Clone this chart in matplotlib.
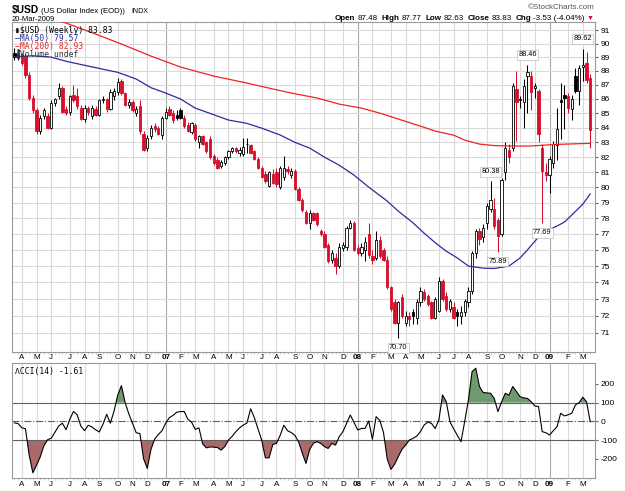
"""
usd_weekly.py - $USD weekly candles with MA(50)/MA(200) and CCI(14) panel.
Values read off a StockCharts snapshot (20-Mar-2009).
"""

import numpy as np
import pandas as pd
import matplotlib
matplotlib.use("Agg")
import matplotlib.pyplot as plt
from matplotlib.ticker import FixedLocator, NullLocator

# weekly bars, Friday closes
weeks = pd.date_range("2006-03-24", "2009-03-20", freq="W-FRI")

opens = [89.3, 89.0, 89.2, 89.1, 87.7, 86.1, 85.2, 83.8, 84.8, 84.8,
         84.0, 85.7, 86.2, 86.8, 85.3, 85.1, 86.3, 86.2, 85.4, 84.6,
         85.4, 84.8, 85.3, 84.9, 85.9, 86.0, 85.3, 86.2, 86.5, 87.3,
         86.4, 85.6, 85.8, 85.0, 85.5, 83.6, 82.6, 83.4, 84.1, 84.0,
         83.5, 84.7, 85.3, 85.0, 84.9, 85.2, 84.7, 84.2, 83.7, 84.2,
         83.0, 83.4, 83.0, 83.2, 82.1, 81.8, 81.4, 81.6, 82.0, 82.4,
         82.6, 82.3, 82.2, 82.9, 82.8, 82.4, 81.9, 81.3, 80.9, 80.1,
         80.9, 81.0, 80.0, 80.7, 81.2, 80.8, 81.1, 79.9, 79.2, 78.4,
         77.7, 78.3, 78.3, 77.2, 77.0, 76.3, 75.4, 75.5, 75.0, 76.1,
         76.2, 77.4, 77.7, 76.1, 75.8, 76.0, 77.0, 75.6, 75.5, 76.6,
         76.0, 75.4, 73.7, 72.8, 71.6, 73.1, 71.6, 72.0, 72.2, 71.9,
         72.8, 73.4, 73.2, 72.8, 71.9, 72.3, 74.1, 73.2, 72.4, 72.5,
         72.2, 72.0, 72.2, 72.8, 73.5, 75.8, 77.2, 76.8, 77.7, 78.6,
         78.6, 77.9, 77.0, 81.0, 82.5, 82.6, 86.7, 85.9, 85.8, 87.6,
         87.6, 86.8, 86.6, 82.6, 81.0, 80.8, 81.6, 82.8, 85.9, 86.3,
         86.2, 85.3, 87.6, 86.6, 88.3, 88.6, 87.48]
highs = [89.7, 89.6, 89.3, 89.3, 87.9, 86.3, 85.4, 84.9, 85.4, 85.0,
         85.9, 86.1, 87.1, 86.9, 85.5, 86.3, 87.0, 86.8, 85.6, 85.6,
         85.5, 85.6, 85.5, 86.0, 86.2, 86.1, 86.7, 86.8, 87.5, 87.4,
         86.5, 86.0, 85.9, 85.5, 85.9, 83.8, 83.5, 84.2, 84.3, 84.1,
         84.8, 85.4, 85.5, 85.2, 85.2, 85.4, 84.9, 84.4, 84.4, 84.3,
         83.5, 83.5, 83.1, 83.4, 82.2, 82.0, 81.8, 82.1, 82.5, 82.7,
         82.7, 82.7, 83.3, 83.3, 82.9, 82.5, 82.0, 81.4, 81.1, 81.1,
         81.2, 81.3, 81.4, 82.1, 81.4, 81.3, 81.2, 80.0, 79.3, 78.5,
         78.5, 78.4, 78.4, 77.3, 77.2, 76.4, 76.0, 75.8, 76.4, 76.5,
         77.5, 77.9, 77.8, 76.3, 76.4, 76.8, 77.7, 76.0, 77.2, 76.9,
         76.1, 75.6, 73.8, 73.0, 72.9, 73.3, 72.3, 72.2, 72.4, 73.0,
         73.7, 73.6, 73.3, 72.9, 73.1, 74.3, 74.2, 73.4, 73.0, 72.8,
         72.4, 72.6, 73.0, 73.7, 75.9, 77.3, 77.4, 77.6, 79.0, 80.38,
         79.3, 78.0, 80.6, 83.0, 82.9, 87.1, 88.0, 86.2, 87.4, 88.46,
         88.0, 87.1, 86.7, 82.9, 81.6, 82.1, 83.1, 85.4, 87.1, 87.0,
         86.4, 86.3, 88.2, 88.4, 89.62, 89.4, 87.77]
lows = [88.8, 88.8, 88.4, 87.5, 85.9, 85.0, 83.6, 83.6, 84.6, 83.9,
        83.9, 85.5, 86.0, 85.0, 84.9, 84.9, 85.8, 85.3, 84.5, 84.4,
        84.9, 84.6, 84.8, 84.8, 85.7, 85.1, 85.2, 85.9, 86.3, 86.3,
        85.5, 85.4, 85.1, 84.8, 83.6, 82.4, 82.4, 83.2, 83.7, 83.5,
        83.2, 84.6, 84.8, 84.3, 84.5, 84.6, 84.0, 83.7, 83.6, 83.1,
        82.6, 82.8, 82.3, 81.9, 81.5, 81.2, 81.3, 81.5, 81.9, 82.3,
        82.3, 82.1, 82.1, 82.3, 82.2, 81.8, 81.2, 80.6, 80.3, 80.0,
        80.2, 80.0, 79.9, 80.5, 80.9, 80.6, 79.8, 79.1, 78.4, 77.6,
        77.3, 77.8, 77.5, 76.9, 76.1, 75.2, 75.2, 74.5, 74.9, 75.9,
        76.0, 77.3, 75.9, 75.7, 75.6, 75.3, 75.5, 75.1, 75.4, 75.5,
        75.3, 73.6, 72.3, 71.5, 70.70, 71.9, 71.4, 71.4, 71.5, 71.5,
        72.6, 72.9, 72.6, 71.8, 71.8, 72.2, 72.9, 72.3, 72.2, 71.8,
        71.4, 71.5, 72.0, 72.5, 73.3, 75.5, 76.3, 76.5, 77.3, 78.4,
        77.3, 75.89, 76.9, 80.5, 81.6, 82.4, 83.1, 85.4, 84.0, 85.0,
        85.2, 86.1, 83.0, 77.69, 80.4, 79.6, 81.3, 81.8, 83.2, 83.9,
        85.0, 84.5, 86.4, 85.6, 87.3, 87.1, 82.63]
closes = [89.0, 89.2, 88.6, 87.7, 86.1, 85.2, 83.8, 84.7, 85.2, 84.0,
          85.7, 86.0, 86.8, 85.1, 85.0, 86.2, 85.9, 85.5, 84.6, 85.4,
          85.1, 85.4, 84.9, 85.9, 86.0, 85.3, 86.5, 86.6, 87.2, 86.4,
          85.6, 85.8, 85.2, 85.3, 83.8, 82.5, 83.3, 84.0, 83.9, 83.6,
          84.7, 85.1, 84.9, 84.5, 84.7, 84.7, 84.1, 83.8, 84.3, 83.2,
          83.4, 82.9, 82.4, 82.0, 81.6, 81.3, 81.7, 82.0, 82.4, 82.6,
          82.4, 82.5, 82.7, 82.9, 82.3, 81.9, 81.3, 80.7, 80.4, 81.0,
          80.3, 80.2, 81.3, 81.3, 81.1, 81.1, 79.9, 79.2, 78.5, 77.7,
          78.3, 77.9, 77.6, 77.0, 76.2, 75.3, 75.8, 75.0, 76.2, 76.3,
          77.4, 77.7, 76.0, 75.8, 76.2, 76.5, 75.7, 75.4, 76.6, 75.6,
          75.4, 73.7, 72.4, 71.6, 72.8, 72.0, 72.0, 71.8, 72.0, 72.8,
          73.5, 73.0, 72.7, 71.9, 73.0, 74.1, 73.0, 72.4, 72.9, 71.9,
          72.0, 72.2, 72.9, 73.5, 75.8, 77.2, 76.7, 77.4, 78.8, 79.2,
          77.5, 76.9, 80.5, 82.6, 82.0, 86.9, 85.8, 86.0, 86.9, 87.9,
          86.5, 86.9, 83.6, 81.1, 80.8, 81.9, 82.9, 83.9, 85.8, 86.1,
          85.4, 86.0, 86.6, 88.2, 88.4, 87.36, 83.83]

# moving averages, read at selected weeks (week index, value)
ma50_idx = [0, 5, 10, 14, 20, 28, 33, 37, 41, 45, 49, 54, 58, 63, 67,
            72, 76, 80, 84, 88, 92, 96, 101, 104, 108, 111, 114, 117,
            120, 123, 127, 130, 134, 137, 139, 141, 143, 147, 149, 151,
            154, 156]
ma50 = [89.03, 89.1, 89.0, 88.7, 88.35, 87.9, 87.42, 86.8, 86.42, 86.0,
        85.36, 84.9, 84.53, 84.3, 83.97, 83.5, 83.0, 82.61, 82.0, 81.46,
        80.8, 80.01, 79.1, 78.45, 77.7, 77.05, 76.45, 75.92, 75.5, 75.0,
        74.87, 74.85, 75.0, 75.5, 76.0, 76.54, 77.05, 77.5, 77.75, 78.2,
        78.9, 79.57]
ma200_idx = [0, 7, 14, 22, 29, 37, 45, 54, 63, 69, 75, 82, 88, 94, 99,
             104, 110, 114, 119, 122, 126, 130, 134, 140, 146, 152, 156]
ma200 = [92.66, 92.13, 91.52, 90.7, 89.96, 89.08, 88.28, 87.63, 87.13,
         86.77, 86.42, 86.07, 85.64, 85.36, 85.01, 84.6, 84.11, 83.77,
         83.49, 83.15, 82.88, 82.78, 82.75, 82.75, 82.85, 82.9, 82.93]

cci = [-8, -12, -34, -40, -180, -275, -235, -190, -130, -98,
       -90, -57, -25, -10, -45, 10, 53, 35, -25, -50,
       -21, -30, -45, -57, -15, 38, -10, 55, 140, 191,
       100, 40, -10, -61, -65, -200, -252, -150, -95, -70,
       -50, -10, 20, 32, 49, 52, 53, 11, -4, -43,
       -35, -120, -142, -137, -138, -140, -154, -135, -100, -80,
       -55, -35, -20, -9, 67, 20, -40, -101, -195, -195,
       -124, -118, -75, -21, -50, -60, -75, -110, -170, -225,
       -150, -118, -109, -118, -135, -145, -118, -127, -82, -55,
       -10, 34, -5, -46, -38, -38, 2, -96, 25, 5,
       -60, -200, -257, -230, -189, -150, -127, -100, -91, -79,
       -55, -20, -4, -11, -38, 7, 141, 105, -2, -40,
       -75, -109, 0, 114, 266, 284, 186, 154, 152, 150,
       123, 52, 105, 150, 140, 186, 160, 132, 125, 123,
       105, 82, 79, -55, -61, -73, -50, -29, 43, 29,
       35, 43, 88, 100, 129, 105, -1.61]

price_ticks = list(range(71, 92))
cci_ticks = [-200, -100, 0, 100, 200]
month_letters = "JFMAMJJASOND"

RED = "#d6102c"
MA50_COL = "#2c2c9c"
MA200_COL = "#f02222"
GRID = "#dadada"
YEAR_GRID = "#a9a9a9"
FRAME = "#9a9a9a"
SANS = "Liberation Sans"
MONO = "DejaVu Sans Mono"

W, H = 625, 491


def fx(px):
    return px / W


def fy(py):
    return 1 - py / H


fig = plt.figure(figsize=(W / 100, H / 100), dpi=100)
ax = fig.add_axes([fx(12), fy(352), fx(595) - fx(12), fy(22) - fy(352)])
ax2 = fig.add_axes([fx(12), fy(478), fx(595) - fx(12), fy(363) - fy(478)])
renderer = fig.canvas.get_renderer()

x = np.arange(len(weeks))
o, h, l, c = (np.array(v) for v in (opens, highs, lows, closes))

# month grid = first bar of every month
month_pos, month_lab, is_year = [], [], []
for i in range(1, len(weeks)):
    if weeks[i].month != weeks[i - 1].month:
        month_pos.append(i)
        if weeks[i].month == 1:
            month_lab.append(weeks[i].strftime("%y"))
            is_year.append(True)
        else:
            month_lab.append(month_letters[weeks[i].month - 1])
            is_year.append(False)

for a, pad in ((ax, 1.5), (ax2, 1.8)):
    for p, yr in zip(month_pos, is_year):
        a.axvline(p, color=YEAR_GRID if yr else GRID, lw=0.8, zorder=0)
    a.set_xlim(-0.65, 157.3)
    a.xaxis.set_major_locator(FixedLocator(month_pos))
    a.set_xticklabels(month_lab, family=SANS)
    for t, yr in zip(a.get_xticklabels(), is_year):
        t.set_fontweight("bold" if yr else "normal")
    a.xaxis.set_minor_locator(FixedLocator(x))
    a.tick_params(axis="x", which="major", length=0, labelsize=5.8, pad=pad)
    a.tick_params(axis="x", which="minor", length=1.5, color="#bbbbbb",
                  width=0.5)
    a.yaxis.tick_right()
    a.tick_params(axis="y", which="major", length=2, labelsize=6, pad=2,
                  color="#666666")
    for s in a.spines.values():
        s.set_color(FRAME)
        s.set_linewidth(0.8)

# ---- price panel (log scale) ----
ax.set_yscale("log")
ax.set_ylim(69.9, 91.6)
ax.yaxis.set_major_locator(FixedLocator(price_ticks))
ax.yaxis.set_minor_locator(NullLocator())
ax.set_yticklabels([str(v) for v in price_ticks], family=SANS)
for v in price_ticks:
    ax.axhline(v, color=GRID, lw=0.8, zorder=0)

prev = np.r_[c[0], c[:-1]]
col = np.where(c >= prev, "black", RED)
face = np.where(c > o, "white", col)
lo_b = np.minimum(o, c)
hi_b = np.maximum(o, c)
ax.vlines(x, l, h, colors=col, lw=0.75, zorder=2)
ax.bar(x, hi_b - lo_b, bottom=lo_b, width=0.62, color=face, edgecolor=col,
       linewidth=0.6, zorder=3)

ax.plot(ma200_idx, ma200, color=MA200_COL, lw=0.9, zorder=4)
ax.plot(ma50_idx, ma50, color=MA50_COL, lw=0.9, zorder=4)

# labels on the swing highs / lows
box = dict(boxstyle="square,pad=0.18", fc="white", ec="#bbbbbb", lw=0.5)
for i, up in ((104, False), (129, True), (131, False), (139, True),
              (143, False), (154, True)):
    yv = h[i] if up else l[i]
    ax.annotate(f"{yv:.2f}", xy=(i, yv), xytext=(0, 4.5 if up else -4.5),
                textcoords="offset points", ha="center",
                va="bottom" if up else "top", fontsize=5.3, family=SANS,
                bbox=box, zorder=6)

mono = dict(family=MONO, fontsize=5.8, zorder=7)
ax.text(0.005, 0.988, "\u25ae$USD (Weekly) 83.83", transform=ax.transAxes,
        va="top", color="black", **mono)
ax.text(0.005, 0.964, "\u2014MA(50) 79.57", transform=ax.transAxes,
        va="top", color=MA50_COL, **mono)
ax.text(0.005, 0.940, "\u2014MA(200) 82.93", transform=ax.transAxes,
        va="top", color=MA200_COL, **mono)
ax.text(0.005, 0.916, "\u2590Volume undef", transform=ax.transAxes,
        va="top", color="#333333", **mono)

# ---- CCI panel ----
ax2.set_ylim(-303, 312)
ax2.yaxis.set_major_locator(FixedLocator(cci_ticks))
ax2.set_yticklabels([str(v) for v in cci_ticks], family=SANS)
cc = np.array(cci, dtype=float)
ax2.fill_between(x, cc, 100, where=cc > 100, interpolate=True,
                 color="#5f8f5f", alpha=0.9, lw=0, zorder=1)
ax2.fill_between(x, cc, -100, where=cc < -100, interpolate=True,
                 color="#a15a5a", alpha=0.9, lw=0, zorder=1)
ax2.axhline(100, color="#606060", lw=0.8, zorder=2)
ax2.axhline(-100, color="#606060", lw=0.8, zorder=2)
ax2.axhline(0, color="#606060", lw=0.8, ls="-.", zorder=2)
ax2.plot(x, cc, color="black", lw=0.8, zorder=3)
ax2.text(0.005, 0.965, "\u039bCCI(14) -1.61", transform=ax2.transAxes,
         va="top", color="black", **mono)


# ---- header text, pieces laid out left to right ----
def chain(x_px, y_px, pieces):
    xpos = x_px
    for txt, kw, gap in pieces:
        t = fig.text(fx(xpos), fy(y_px), txt, va="baseline", family=SANS,
                     **kw)
        bb = t.get_window_extent(renderer)
        xpos = bb.x1 + gap


chain(12, 13, [("$USD", dict(fontsize=7.4, fontweight="bold"), 2),
               ("(US Dollar Index (EOD))", dict(fontsize=5.6), 6),
               ("INDX", dict(fontsize=5.0), 0)])
fig.text(fx(12), fy(21), "20-Mar-2009", fontsize=5.5, family=SANS,
         va="baseline")
fig.text(fx(595), fy(9), "\u00a9StockCharts.com", fontsize=5.8,
         family=SANS, color="#555555", ha="right", va="baseline")

B = dict(fontsize=5.8, fontweight="bold")
N = dict(fontsize=5.8)
chain(335, 20, [("Open", B, 2), ("87.48", N, 4), ("High", B, 2),
                ("87.77", N, 4), ("Low", B, 2), ("82.63", N, 4),
                ("Close", B, 2), ("83.83", N, 4), ("Chg", B, 2),
                ("-3.53 (-4.04%)", N, 2),
                ("\u25bc", dict(fontsize=5, color=RED), 0)])

fig.savefig("out.png", dpi=100)
